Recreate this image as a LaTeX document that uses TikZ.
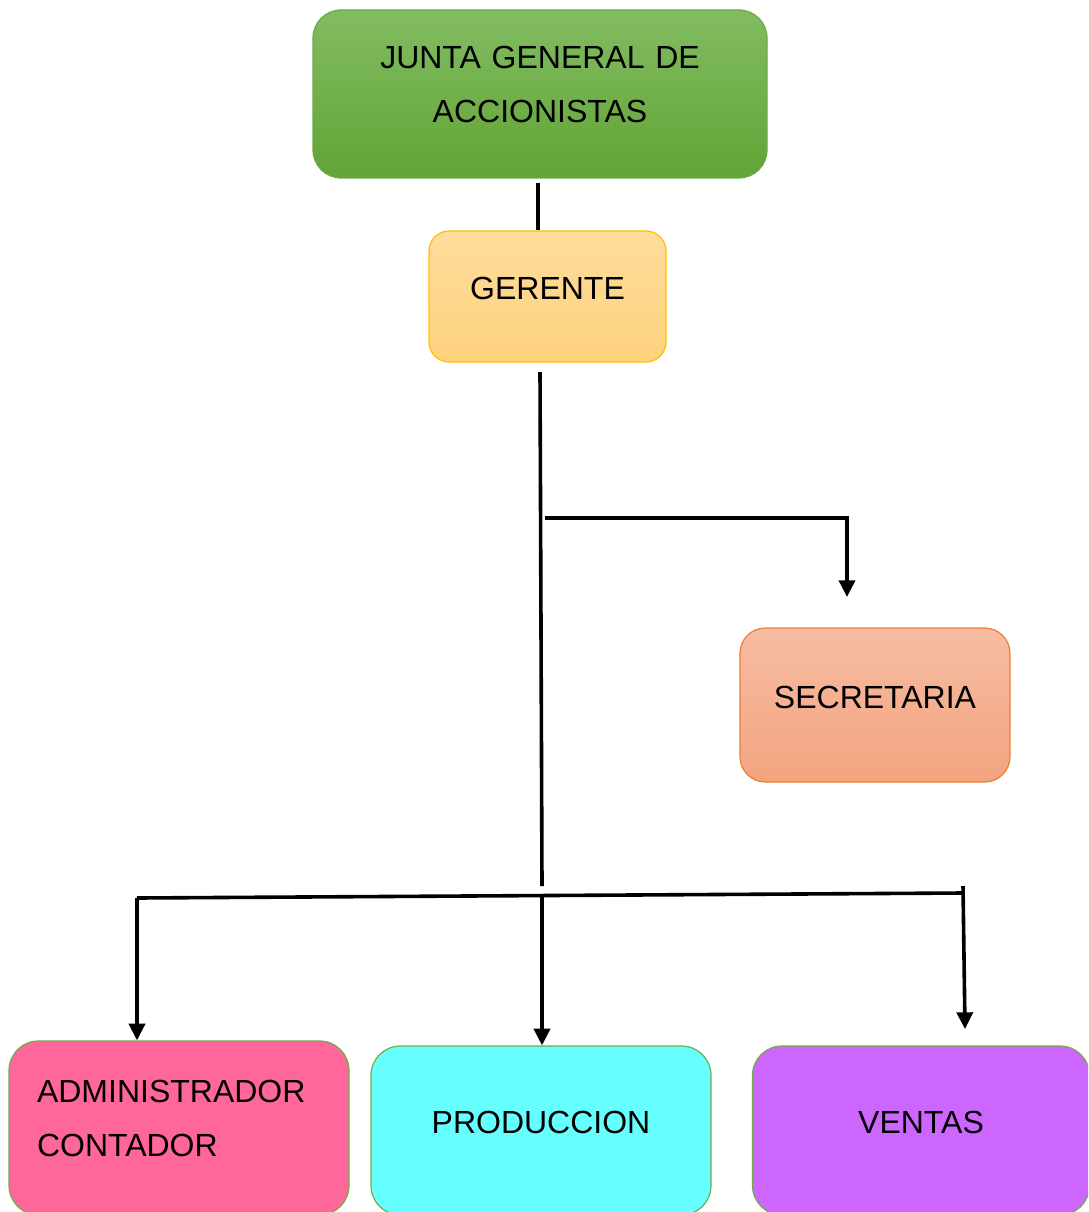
\documentclass[tikz,border=0pt]{standalone}
\usepackage{fontspec}
\setmainfont{Liberation Sans}
\usetikzlibrary{
    arrows.meta
}
\definecolor{juntatop}{HTML}{82BC62}
\definecolor{juntabot}{HTML}{62A436}
\definecolor{juntaline}{HTML}{6AAA48}
\definecolor{gertop}{HTML}{FEDC9C}
\definecolor{gerbot}{HTML}{FDD27C}
\definecolor{gerline}{HTML}{FFC000}
\definecolor{sectop}{HTML}{F6BCA2}
\definecolor{secbot}{HTML}{F4A47F}
\definecolor{secline}{HTML}{ED7D31}
\definecolor{admfill}{HTML}{FF6699}
\definecolor{prodfill}{HTML}{66FFFF}
\definecolor{ventfill}{HTML}{CC66FF}
\definecolor{lowline}{HTML}{70AD47}

\begin{document}
\begin{tikzpicture}[x=0.75pt, y=-0.75pt,
    box/.style={draw, line width=0.9pt, rounded corners=21pt,
        font=\fontsize{24}{40.5}\selectfont,
        text height=17.2pt, text depth=12pt},
    twoline/.style={text height=17.2pt, text depth=56pt},
    conn/.style={line width=2.7pt},
    arr/.style={conn, -{Triangle[width=12pt, length=12.5pt]}}]
    \path[use as bounding box, clip] (0,0) rectangle (1088,1212);
    % cajas
    \node[box, twoline, draw=juntaline, top color=juntatop, bottom color=juntabot,
        minimum width=340.5pt, minimum height=126pt, text width=250pt, align=center]
        (junta) at (540,94) {JUNTA GENERAL DE\\ACCIONISTAS};
    \node[box, draw=gerline, top color=gertop, bottom color=gerbot, rounded corners=15pt,
        minimum width=177.75pt, minimum height=98.25pt]
        (gerente) at (547.5,296.5) {GERENTE};
    \node[box, draw=secline, top color=sectop, bottom color=secbot, rounded corners=19pt,
        minimum width=202.5pt, minimum height=115.5pt]
        (secre) at (875,705) {SECRETARIA};
    \node[box, twoline, draw=lowline, fill=admfill, rounded corners=22pt,
        minimum width=255pt, minimum height=130.5pt, text width=213pt, align=left]
        (admin) at (179,1128) {ADMINISTRADOR\\CONTADOR};
    \node[box, draw=lowline, fill=prodfill, rounded corners=22pt,
        minimum width=255pt, minimum height=126.75pt]
        (prod) at (541,1130.5) {PRODUCCION};
    \node[box, draw=lowline, fill=ventfill, rounded corners=22pt,
        minimum width=252.75pt, minimum height=126.75pt]
        (ventas) at (921,1130.5) {VENTAS};
    % lineas
    \coordinate (jg) at (538,183);
    \coordinate (gtop) at (540,372);
    \coordinate (gbot) at (542,886);
    \coordinate (sb) at (545,518);
    \coordinate (sa) at (847,597);
    \coordinate (bl) at (137,898);
    \coordinate (br) at (963,893);
    \coordinate (bm) at (542,897);
    \coordinate (brt) at (963,886);
    \coordinate (va) at (965,1029);
    \draw[conn] (jg) -- (jg |- gerente.north);
    \draw[conn] (gtop) -- (gbot);
    \draw[arr] (sb) -| (sa);
    \draw[conn] (bl) -- (br);
    \draw[arr] (bl) -- (bl |- admin.north);
    \draw[arr] (bm) -- (bm |- prod.north);
    \draw[arr] (brt) -- (va);
\end{tikzpicture}
\end{document}
